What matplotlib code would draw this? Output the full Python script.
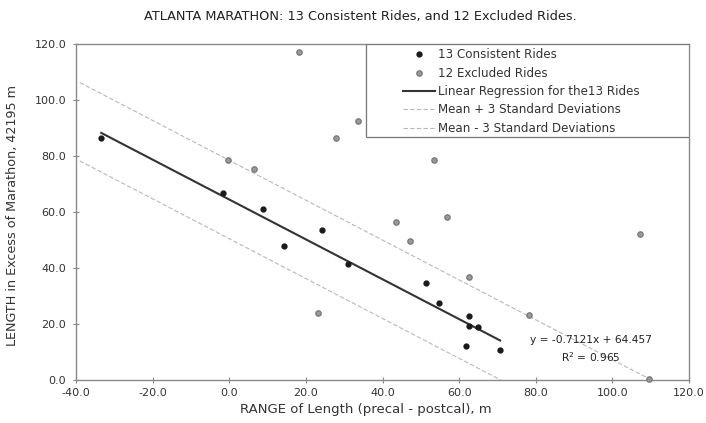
import numpy as np
import matplotlib.pyplot as plt
from matplotlib.patches import Rectangle

plt.rcParams['font.family'] = ['DejaVu Sans']

# 13 consistent rides: range (precal - postcal) and excess length, m
consistent_x = [-33.4, -1.5, 8.9, 14.4, 24.1, 31.1, 51.4, 54.8, 62.5, 62.7, 65.0, 61.8, 70.7]
consistent_y = [86.3, 66.7, 61.0, 48.0, 53.6, 41.4, 34.8, 27.4, 23.0, 19.3, 18.9, 12.3, 10.6]

# excluded rides
excluded_x = [18.3, -0.2, 6.5, 27.8, 33.5, 53.4, 43.5, 56.7, 47.1, 62.5, 78.3, 107.2, 23.1, 109.5]
excluded_y = [117.1, 78.6, 75.2, 86.3, 92.5, 78.6, 56.4, 58.3, 49.8, 36.7, 23.1, 52.3, 24.0, 0.3]

slope = -0.7121
intercept = 64.457
r2 = 0.965
band = 14.0  # 3 standard deviations about the fit

fig = plt.figure(figsize=(7.06, 4.23), dpi=100)
ax = fig.add_axes([0.1076, 0.1017, 0.8684, 0.7943])

axis_col = '#8a8a8a'
txt_col = '#333333'

# regression over the consistent rides
xr = np.array([min(consistent_x), max(consistent_x)])
ax.plot(xr, slope * xr + intercept, color='#333333', lw=1.5, zorder=3,
        label='Linear Regression for the13 Rides')

# +/- 3 SD bands, stopped where they reach zero
x_up = np.array([-39.0, (intercept + band) / -slope])
x_lo = np.array([-39.0, (intercept - band) / -slope])
ax.plot(x_up, slope * x_up + intercept + band, color='#b8b8b8', lw=0.8,
        ls=(0, (4, 2)), zorder=2, label='Mean + 3 Standard Deviations')
ax.plot(x_lo, slope * x_lo + intercept - band, color='#b8b8b8', lw=0.8,
        ls=(0, (4, 2)), zorder=2, label='Mean - 3 Standard Deviations')

ax.plot(consistent_x, consistent_y, 'o', color='#1a1a1a', ms=3.5, zorder=4,
        label='13 Consistent Rides')
ax.plot(excluded_x, excluded_y, 'o', color='#9a9a9a', mec='#7a7a7a', ms=3.8,
        zorder=4, clip_on=False, label='12 Excluded Rides')

ax.text(94.4, 14.3, 'y = -0.7121x + 64.457', fontsize=7.7, ha='center',
        va='center', color='#222222')
ax.text(94.4, 8.2, 'R$^2$ = 0.965', fontsize=7.7, ha='center', va='center',
        color='#222222')

ax.set_xlim(-40, 120)
ax.set_ylim(0, 120)
ax.set_xticks(np.arange(-40, 121, 20))
ax.set_yticks(np.arange(0, 121, 20))
ax.set_xticklabels([f'{v:.1f}' for v in np.arange(-40, 121, 20)])
ax.set_yticklabels([f'{v:.1f}' for v in np.arange(0, 121, 20)])
ax.tick_params(direction='inout', length=4, width=0.8, color=axis_col,
               labelsize=8, labelcolor=txt_col)
ax.tick_params(axis='y', pad=5)
ax.tick_params(axis='x', pad=4)
for s in ax.spines.values():
    s.set_color(axis_col)
    s.set_linewidth(1.0)

ax.set_xlabel('RANGE of Length (precal - postcal), m', fontsize=9.5,
              color=txt_col)
ax.set_ylabel('LENGTH in Excess of Marathon, 42195 m', fontsize=9.2,
              color=txt_col)
ax.xaxis.set_label_coords(0.473, -0.068)
ax.yaxis.set_label_coords(-0.093, 0.491)
fig.text(0.511, 0.962, 'ATLANTA MARATHON: 13 Consistent Rides, and 12 Excluded Rides.',
         ha='center', va='center', fontsize=9.3, color='#222222')

# legend box spans the upper right of the plot area, entries set in from its left
ax.add_patch(Rectangle((0.473, 0.723), 0.527, 0.277, transform=ax.transAxes,
                       facecolor='white', edgecolor='#777777', lw=0.9,
                       zorder=5))
h, l = ax.get_legend_handles_labels()
order = [3, 4, 0, 1, 2]
leg = ax.legend([h[i] for i in order], [l[i] for i in order],
                loc='upper left', bbox_to_anchor=(0.533, 0.987), fontsize=8.6,
                frameon=False, handlelength=2.7, labelspacing=0.45,
                borderpad=0.0, handletextpad=0.25, borderaxespad=0.0)
leg.set_zorder(6)
for t in leg.get_texts():
    t.set_color(txt_col)

fig.savefig('out.png', dpi=100)
